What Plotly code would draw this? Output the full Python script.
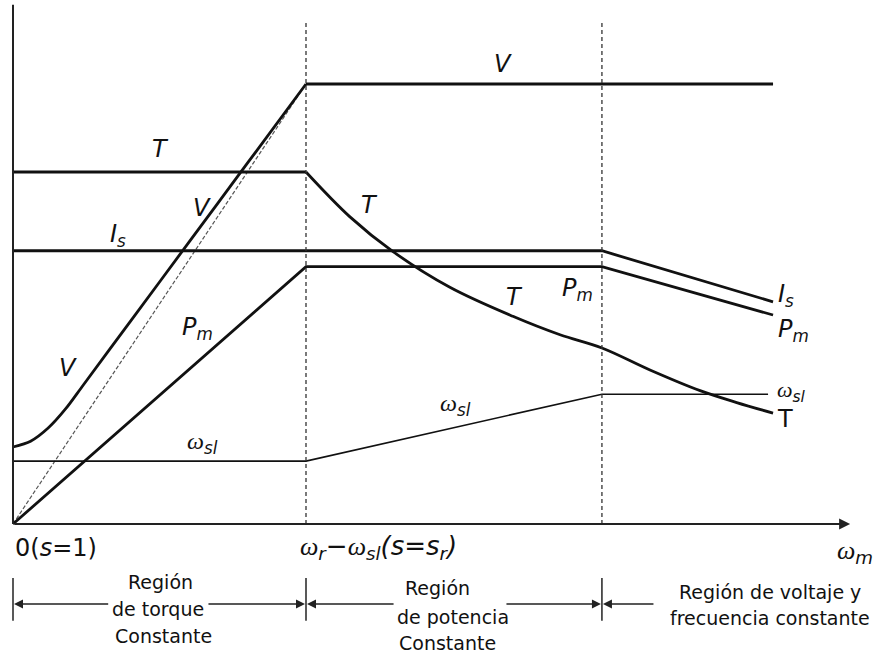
import plotly.graph_objects as go

# ---------------- data (normalised: speed 1 = base speed, V = 1 at rated) ----------------
base_speed = 1.0
second_speed = 2.01

speed_V_ramp = [0.0, 0.06, 0.12, 0.18, 0.24, 0.40, 0.60, 0.80, 1.0]
V_ramp = [0.175, 0.188, 0.218, 0.262, 0.316, 0.460, 0.640, 0.820, 1.0]
speed_V_flat = [1.0, 2.594]
V_flat = [1.0, 1.0]

speed_ref = [0.0, 1.0]
V_ref = [0.0, 1.0]

speed_T_flat = [0.0, 1.0]
T_flat = [0.80, 0.80]
speed_T_curve = [1.0, 1.150, 1.297, 1.491, 1.706, 1.867, 2.010, 2.174, 2.345, 2.470, 2.594]
T_curve = [0.800, 0.698, 0.619, 0.538, 0.472, 0.430, 0.400, 0.350, 0.303, 0.276, 0.252]

speed_Is = [0.0, 2.01, 2.594]
Is_vals = [0.621, 0.621, 0.505]

speed_Pm = [0.0, 1.0, 2.01, 2.594]
Pm_vals = [0.0, 0.585, 0.585, 0.475]

speed_wsl = [0.0, 1.0, 2.01, 2.577]
wsl_vals = [0.143, 0.143, 0.295, 0.295]

x_axis_end = 2.857
y_axis_top = 1.18
dash_top = 1.139

# ---------------- figure ----------------
fig = go.Figure()
thick = dict(color="#111111", width=2.8)

fig.add_trace(go.Scatter(x=speed_ref, y=V_ref, mode="lines",
                         line=dict(color="#555555", width=1.2, dash="4px,2px")))
fig.add_trace(go.Scatter(x=speed_V_ramp, y=V_ramp, mode="lines",
                         line=dict(thick, shape="spline", smoothing=0.8)))
fig.add_trace(go.Scatter(x=speed_V_flat, y=V_flat, mode="lines", line=thick))
fig.add_trace(go.Scatter(x=speed_T_flat, y=T_flat, mode="lines", line=thick))
fig.add_trace(go.Scatter(x=speed_T_curve, y=T_curve, mode="lines",
                         line=dict(thick, shape="spline", smoothing=1.0)))
fig.add_trace(go.Scatter(x=speed_Is, y=Is_vals, mode="lines", line=thick))
fig.add_trace(go.Scatter(x=speed_Pm, y=Pm_vals, mode="lines", line=thick))
fig.add_trace(go.Scatter(x=speed_wsl, y=wsl_vals, mode="lines",
                         line=dict(color="#111111", width=1.6)))

shapes = []
# y axis
shapes.append(dict(type="line", x0=0, x1=0, y0=0, y1=y_axis_top,
                   line=dict(color="#222222", width=2)))
# dashed region boundaries
for xb in (base_speed, second_speed):
    shapes.append(dict(type="line", x0=xb, x1=xb, y0=0, y1=dash_top,
                       line=dict(color="#333333", width=1.3, dash="4px,3px")))
# region bars below axis
for xb in (0, base_speed, second_speed):
    shapes.append(dict(type="line", x0=xb, x1=xb, y0=-0.123, y1=-0.220,
                       line=dict(color="#222222", width=1.5)))
fig.update_layout(shapes=shapes)

ann = []
# x axis with arrow
ann.append(dict(x=x_axis_end, y=0, ax=0, ay=0, xref="x", yref="y", axref="x", ayref="y",
                text="", showarrow=True, arrowhead=2, arrowsize=1.1, arrowwidth=2,
                arrowcolor="#222222", standoff=0))
# region arrows (head, tail)
arrow_y = -0.182
for head, tail in [(0, 0.33), (base_speed, 0.662), (base_speed, 1.304),
                   (second_speed, 1.679), (second_speed, 2.191)]:
    ann.append(dict(x=head, y=arrow_y, ax=tail, ay=arrow_y, xref="x", yref="y",
                    axref="x", ayref="y", text="", showarrow=True, arrowhead=2,
                    arrowsize=1.2, arrowwidth=1.5, arrowcolor="#222222", standoff=1))

W = '<span style="font-family:Liberation Serif">ω</span>'
lab_font = dict(family="DejaVu Sans", size=24, color="#111111", style="italic")
up_font = dict(family="DejaVu Sans", size=24, color="#111111")
reg_font = dict(family="DejaVu Sans", size=19, color="#111111")

def lab(x, y, t, font=lab_font, xa="center"):
    ann.append(dict(x=x, y=y, xref="x", yref="y", text=t, showarrow=False,
                    font=font, xanchor=xa, yanchor="middle"))

wsl = W + "<sub>sl</sub>"
lab(1.672, 1.045, "V")
lab(0.502, 0.852, "T")
lab(0.645, 0.718, "V")
lab(0.358, 0.655, "I<sub>s</sub>")
lab(1.218, 0.725, "T")
lab(1.713, 0.516, "T")
lab(1.925, 0.532, "P<sub>m</sub>")
lab(0.631, 0.445, "P<sub>m</sub>")
lab(0.188, 0.355, "V")
lab(0.648, 0.184, wsl)
lab(1.509, 0.270, wsl)
lab(2.604, 0.520, "I<sub>s</sub>", xa="left")
lab(2.604, 0.440, "P<sub>m</sub>", xa="left")
lab(2.600, 0.302, wsl, font=dict(lab_font, size=22), xa="left")
lab(2.600, 0.238, "T", font=up_font, xa="left")

# axis tick-like labels
lab(0.0, -0.0545, "0(<i>s</i>=1)", font=up_font, xa="left")
lab(1.246, -0.0545, "<i>" + W + "<sub>r</sub>−" + W + "<sub>sl</sub>(s=s<sub>r</sub>)</i>",
    font=dict(up_font, size=26))
lab(2.875, -0.064, "<i>" + W + "<sub>m</sub></i>", font=dict(up_font, size=26))

# region texts
for x, y, t in [(0.502, -0.132, "Región"), (0.495, -0.193, "de torque"),
                (0.512, -0.255, "Constante"),
                (1.450, -0.146, "Región"), (1.502, -0.211, "de potencia"),
                (1.482, -0.270, "Constante"),
                (2.584, -0.155, "Región de voltaje y"),
                (2.584, -0.214, "frecuencia constante")]:
    lab(x, y, t, font=reg_font)

fig.update_layout(annotations=ann)

fig.update_layout(
    width=877, height=653, margin=dict(l=0, r=0, t=0, b=0),
    paper_bgcolor="white", plot_bgcolor="white", showlegend=False,
    xaxis=dict(range=[-13 / 293, 864 / 293], visible=False, fixedrange=True),
    yaxis=dict(range=[-129 / 440, 524 / 440], visible=False, fixedrange=True),
)

fig.write_html("out.html", config={"displayModeBar": False},
               post_script="document.body.style.margin='0px';document.body.style.overflow='hidden';")
